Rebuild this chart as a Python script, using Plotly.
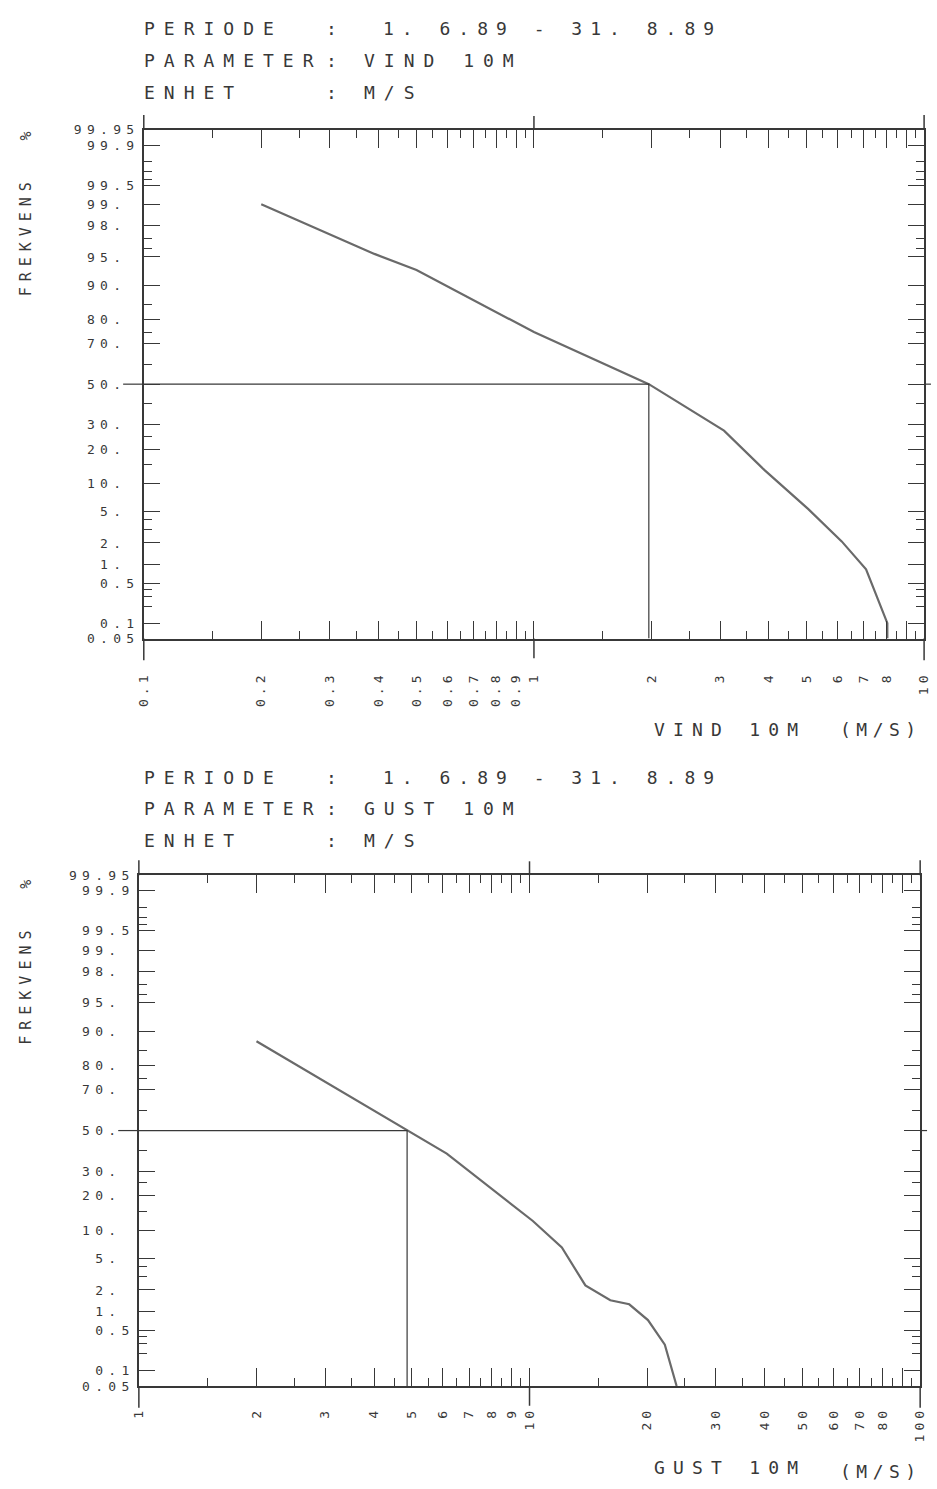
import plotly.graph_objects as go
from statistics import NormalDist

_nd = NormalDist()


def zq(p):
    """Normal-probability position of a percentage."""
    return _nd.inv_cdf(p / 100.0)


# ---------------- data ----------------
vind_speed = [0.2, 0.39, 0.5, 1.0, 1.97, 3.07, 3.9, 5.05, 6.15, 7.1, 8.05, 8.05]
vind_freq = [99.0, 95.4, 93.0, 75.0, 50.0, 27.4, 13.3, 5.3, 2.1, 0.83, 0.10, 0.05]
vind_median = 1.97

gust_speed = [2.0, 4.86, 6.14, 10.2, 12.1, 13.9, 16.1, 18.0, 20.1, 22.2, 23.8]
gust_freq = [87.5, 50.0, 38.3, 12.2, 6.6, 2.3, 1.44, 1.26, 0.73, 0.29, 0.05]
gust_median = 4.86

freq_tick_values = [99.95, 99.9, 99.5, 99, 98, 95, 90, 80, 70, 50, 30, 20, 10, 5, 2, 1, 0.5, 0.1, 0.05]
freq_tick_labels = ["99.95", "99.9", "99.5", "99.", "98.", "95.", "90.", "80.", "70.", "50.",
                    "30.", "20.", "10.", "5.", "2.", "1.", "0.5", "0.1", "0.05"]
freq_minor_values = [99.8, 99.7, 99.6, 97, 96, 85, 75, 60, 40, 25, 15, 4, 3, 0.4, 0.3, 0.2]

vind_tick_values = [0.1, 0.2, 0.3, 0.4, 0.5, 0.6, 0.7, 0.8, 0.9, 1, 2, 3, 4, 5, 6, 7, 8, 9, 10]
vind_tick_labels = ["0.1", "0.2", "0.3", "0.4", "0.5", "0.6", "0.7", "0.8", "0.9", "1",
                    "2", "3", "4", "5", "6", "7", "8", "", "10"]
vind_minor_values = [0.15, 0.25, 0.35, 0.45, 0.55, 0.65, 0.75, 0.85, 0.95,
                     1.5, 2.5, 3.5, 4.5, 5.5, 6.5, 7.5, 8.5, 9.5]

gust_tick_values = [1, 2, 3, 4, 5, 6, 7, 8, 9, 10, 20, 30, 40, 50, 60, 70, 80, 90, 100]
gust_tick_labels = ["1", "2", "3", "4", "5", "6", "7", "8", "9", "10",
                    "20", "30", "40", "50", "60", "70", "80", "", "100"]
gust_minor_values = [1.5, 2.5, 3.5, 4.5, 5.5, 6.5, 7.5, 8.5, 9.5,
                     15, 25, 35, 45, 55, 65, 75, 85, 95]

header_labels = ["PERIODE", "PARAMETER", "ENHET"]
header_vind_values = ["1. 6.89 - 31. 8.89", "VIND 10M", "M/S"]
header_gust_values = ["1. 6.89 - 31. 8.89", "GUST 10M", "M/S"]

# ---------------- styling ----------------
W, H = 937, 1489
INK = "#383838"
CURVE = "#6a6a6a"
MONO = "DejaVu Sans Mono"


def spaced(t, ls):
    return f'<span style="letter-spacing:{ls}px">{t}</span>' if t else ""


def px_x(px):
    return px / W


def px_y(py):
    return 1 - py / H


panels = [
    dict(xa="x", ya="y", speed=vind_speed, freq=vind_freq, median=vind_median,
         xmin=0.1, xrange=[-1, 1], xdom=(138, 931), ydom=(124, 638),
         tickv=vind_tick_values, tickt=vind_tick_labels, minor=vind_minor_values,
         xstand=26, ystand=0, head_y=(22, 54, 86), values=header_vind_values,
         title="VIND 10M", title_y=(730, 730), frek_y=(130, 232)),
    dict(xa="x2", ya="y2", speed=gust_speed, freq=gust_freq, median=gust_median,
         xmin=1, xrange=[0, 2], xdom=(133, 927), ydom=(877, 1393),
         tickv=gust_tick_values, tickt=gust_tick_labels, minor=gust_minor_values,
         xstand=14, ystand=0, head_y=(778, 810, 842), values=header_gust_values,
         title="GUST 10M", title_y=(1475, 1479), frek_y=(886, 988)),
]

fig = go.Figure()
shapes = []
annotations = []
layout_axes = {}

for i, p in enumerate(panels):
    # data curve
    fig.add_trace(go.Scatter(
        x=p["speed"], y=[zq(f) for f in p["freq"]], xaxis=p["xa"], yaxis=p["ya"],
        mode="lines", line=dict(color=CURVE, width=2.2), showlegend=False,
        hoverinfo="skip"))
    # median guide lines
    fig.add_trace(go.Scatter(
        x=[p["xmin"], p["median"], p["median"]], y=[zq(50), zq(50), zq(0.05)],
        xaxis=p["xa"], yaxis=p["ya"], mode="lines",
        line=dict(color=INK, width=1.2), showlegend=False, hoverinfo="skip"))

    xw = p["xdom"][1] - p["xdom"][0]
    yh = p["ydom"][1] - p["ydom"][0]
    xname = "xaxis" if i == 0 else "xaxis2"
    yname = "yaxis" if i == 0 else "yaxis2"
    common = dict(showline=True, linecolor=INK, linewidth=1.5, mirror="ticks",
                  ticks="inside", tickcolor=INK, tickwidth=1.3, showgrid=False,
                  zeroline=False, tickmode="array")
    layout_axes[xname] = dict(
        common, type="log", range=p["xrange"], anchor=p["ya"],
        domain=[px_x(p["xdom"][0]), px_x(p["xdom"][1])],
        tickvals=p["tickv"], ticktext=[spaced(t, 4) for t in p["tickt"]],
        ticklen=18, tickangle=-90, ticklabelstandoff=p["xstand"],
        tickfont=dict(family=MONO, size=13, color=INK),
        minor=dict(tickmode="array", tickvals=p["minor"], ticklen=8,
                   ticks="inside", tickcolor=INK, tickwidth=1.3))
    ylabels = [spaced(t + ("\u00a0" if t.endswith(".") else ""), 5.3) for t in freq_tick_labels]
    layout_axes[yname] = dict(
        common, range=[zq(0.05), zq(99.95)], anchor=p["xa"],
        domain=[px_y(p["ydom"][1]), px_y(p["ydom"][0])],
        tickvals=[zq(v) for v in freq_tick_values], ticktext=ylabels,
        ticklen=16, ticklabelstandoff=p["ystand"],
        tickfont=dict(family=MONO, size=13, color=INK),
        minor=dict(tickmode="array", tickvals=[zq(v) for v in freq_minor_values],
                   ticklen=8, ticks="inside", tickcolor=INK, tickwidth=1.3))

    xd = f"{p['xa']} domain"
    yd = f"{p['ya']} domain"
    line = dict(color=INK, width=1.5)
    # axis frame extensions above/below the box
    for xx in (0, 1):
        shapes.append(dict(type="line", xref=xd, yref=yd, x0=xx, x1=xx,
                           y0=1, y1=1 + 15 / yh, line=line))
        shapes.append(dict(type="line", xref=xd, yref=yd, x0=xx, x1=xx,
                           y0=0, y1=-22 / yh, line=line))
    # decade tick crossing the frame
    shapes.append(dict(type="line", xref=xd, yref=yd, x0=0.5, x1=0.5,
                       y0=1, y1=1 + 14 / yh, line=line))
    shapes.append(dict(type="line", xref=xd, yref=yd, x0=0.5, x1=0.5,
                       y0=0, y1=-20 / yh, line=line))
    # 50 % tick outside the frame
    shapes.append(dict(type="line", xref=xd, yref=yd, x0=-21 / xw, x1=0,
                       y0=0.5, y1=0.5, line=dict(color=INK, width=1.2)))
    shapes.append(dict(type="line", xref=xd, yref=yd, x0=1, x1=1 + 7 / xw,
                       y0=0.5, y1=0.5, line=dict(color=INK, width=1.2)))

    # header block
    hfont = dict(family=MONO, size=18, color=INK)
    for k, (lab, val) in enumerate(zip(header_labels, p["values"])):
        yy = px_y(p["head_y"][k])
        annotations.append(dict(text=spaced(lab, 9), x=px_x(136), y=yy, xref="paper",
                                yref="paper", xanchor="left", yanchor="middle",
                                showarrow=False, font=hfont))
        annotations.append(dict(text=spaced(":", 9), x=px_x(321), y=yy, xref="paper",
                                yref="paper", xanchor="left", yanchor="middle",
                                showarrow=False, font=hfont))
        annotations.append(dict(text=spaced(val, 8 if k == 0 else 9),
                                x=px_x(379 if k == 0 else 360), y=yy,
                                xref="paper", yref="paper", xanchor="left",
                                yanchor="middle", showarrow=False, font=hfont))
    # x axis title
    annotations.append(dict(text=spaced(p["title"], 8.2), x=px_x(654), y=px_y(p["title_y"][0]),
                            xref="paper", yref="paper", xanchor="left", yanchor="middle",
                            showarrow=False, font=hfont))
    annotations.append(dict(text=spaced("(M/S)", 5.5), x=px_x(844), y=px_y(p["title_y"][1]),
                            xref="paper", yref="paper", xanchor="left", yanchor="middle",
                            showarrow=False, font=hfont))
    # y axis title
    ffont = dict(family=MONO, size=15, color=INK)
    annotations.append(dict(text="%", x=px_x(18), y=px_y(p["frek_y"][0]), xref="paper",
                            yref="paper", xanchor="center", yanchor="middle",
                            textangle=-90, showarrow=False, font=ffont))
    annotations.append(dict(text=spaced("FREKVENS", 6), x=px_x(18), y=px_y(p["frek_y"][1]),
                            xref="paper", yref="paper", xanchor="center", yanchor="middle",
                            textangle=-90, showarrow=False, font=ffont))

fig.update_layout(
    width=W, height=H, margin=dict(l=0, r=0, t=0, b=0),
    paper_bgcolor="white", plot_bgcolor="white", showlegend=False,
    shapes=shapes, annotations=annotations, **layout_axes)

fig.write_html("out.html")
